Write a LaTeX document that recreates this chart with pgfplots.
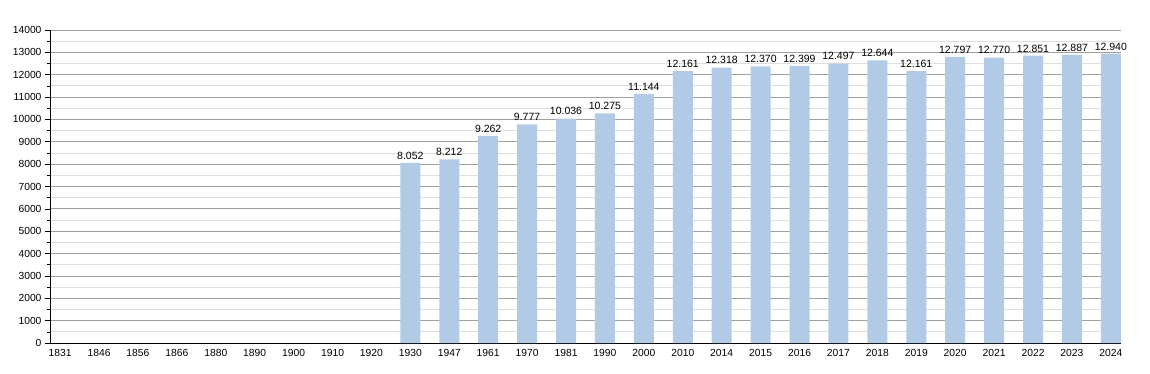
\documentclass[border=0pt]{standalone}
\usepackage{pgfplots}
\pgfplotsset{compat=1.18}
\usepackage{fontspec}
\setmainfont{Liberation Sans}
\definecolor{barblue}{RGB}{177,203,230}
\definecolor{majgrid}{RGB}{160,160,160}
\definecolor{mingrid}{RGB}{222,222,222}
\begin{document}
\begin{tikzpicture}
\useasboundingbox (-50pt,-30pt) rectangle (1100pt,343pt);
\begin{axis}[
  at={(0pt,0pt)}, anchor=south west,
  scale only axis, width=1071pt, height=313pt,
  xmin=-0.26, xmax=27.26, ymin=0, ymax=14000,
  axis x line*=bottom, axis y line*=left,
  axis line style={black, line width=0.9pt, -},
  xtick={0,1,...,27},
  xticklabels={1831,1846,1856,1866,1880,1890,1900,1910,1920,1930,1947,1961,1970,1981,1990,2000,2010,2014,2015,2016,2017,2018,2019,2020,2021,2022,2023,2024},
  x tick style={draw=none},
  ytick={0,1000,...,14000},
  minor ytick={500,1500,...,13500},
  y tick style={black, line width=0.6pt},
  major tick length=5pt, minor tick length=3pt,
  tick align=outside,
  ymajorgrids, yminorgrids,
  major grid style={majgrid, line width=0.8pt},
  minor grid style={mingrid, line width=0.8pt},
  tick label style={font=\fontsize{10.3}{12}\selectfont},
  xticklabel style={yshift=2pt},
  /pgf/number format/assume math mode=true,
  scaled y ticks=false,
  yticklabel style={/pgf/number format/.cd, fixed, precision=0, 1000 sep={}},
  ybar, bar width=20pt, bar shift=0pt,
  clip=false,
  nodes near coords,
  nodes near coords style={font=\fontsize{10.5}{12}\selectfont, /pgf/number format/.cd, fixed, precision=0, 1000 sep={.}, assume math mode=true},
]
\addplot[fill=barblue, draw=none] coordinates {
(9,8052) (10,8212) (11,9262) (12,9777) (13,10036) (14,10275) (15,11144) (16,12161)
(17,12318) (18,12370) (19,12399) (20,12497) (21,12644) (22,12161) (23,12797)
(24,12770) (25,12851) (26,12887) (27,12940)
};
\end{axis}
\end{tikzpicture}
\end{document}
